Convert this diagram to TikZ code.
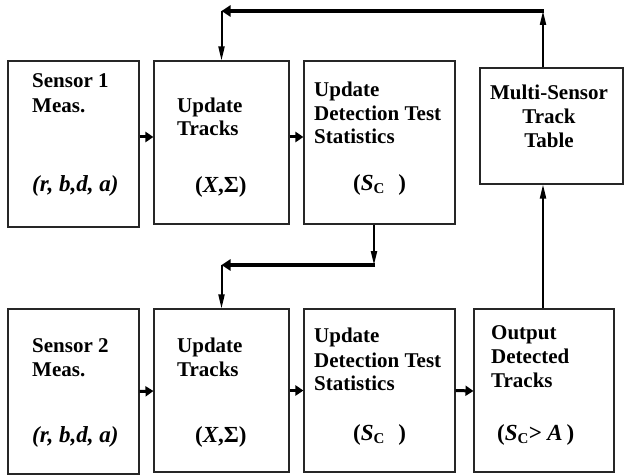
\documentclass[tikz,border=0pt]{standalone}
\usepackage{fontspec}
\setmainfont{Liberation Serif}
\usetikzlibrary{arrows.meta,calc}
\tikzset{
  box/.style={draw=black!85,line width=1.1pt,minimum width=#1,inner sep=0pt},
  lbl/.style={anchor=base west,inner sep=0pt,font=\bfseries\fontsize{21}{24}\selectfont},
  biglbl/.style={anchor=base west,inner sep=0pt,font=\bfseries\fontsize{23}{26}\selectfont},
  clbl/.style={anchor=base,inner sep=0pt,font=\bfseries\fontsize{21}{24}\selectfont},
  shortarrow/.style={line width=3pt,-{Triangle[length=8pt,width=10pt]}},
  looparrow/.style={line width=2pt,-{Triangle[length=14pt,width=6pt]}},
  thickline/.style={line width=4pt,-{Triangle[length=9pt,width=11pt]}},
}
\newcommand{\subC}{\raisebox{-0.35ex}{\fontsize{15}{15}\selectfont C}}
\begin{document}
\begin{tikzpicture}[x=1pt,y=-1pt]
\useasboundingbox (0,0) rectangle (624,476);
% boxes
\node[box=131pt,minimum height=166pt] (s1) at (73.5,144) {};
\node[box=135pt,minimum height=163pt] (t1) at (221.5,142.5) {};
\node[box=151pt,minimum height=163pt] (d1) at (379.5,142.5) {};
\node[box=143pt,minimum height=116pt] (m) at (551.5,126) {};
\node[box=131pt,minimum height=165pt] (s2) at (73.5,391.5) {};
\node[box=135pt,minimum height=163pt] (t2) at (221.5,390.5) {};
\node[box=151pt,minimum height=163pt] (d2) at (379.5,390.5) {};
\node[box=140pt,minimum height=163pt] (o) at (544,390.5) {};
% texts top row
\node[lbl] (s1a) at (32,88) {Sensor 1};
\node[lbl] (s1b) at (32,113) {Meas.};
\node[biglbl] (s1c) at (32,191) {\itshape (r, b,d, a)};
\node[lbl] (t1a) at (177,113) {Update};
\node[lbl] (t1b) at (177,136) {Tracks};
\node[biglbl] (t1c) at (195,193) {(\textit{X},Σ)};
\node[lbl] (d1a) at (314,97) {Update};
\node[lbl] (d1b) at (314,121) {Detection Test};
\node[lbl] (d1c) at (314,144) {Statistics};
\node[biglbl] (d1d) at (353,190) {(\textit{S}\subC\hspace{14pt})};
\node[clbl] (m1) at (549,100) {Multi-Sensor};
\node[clbl] (m2) at (549,124) {Track};
\node[clbl] (m3) at (549,148) {Table};
% texts bottom row
\node[lbl] (s2a) at (32,352) {Sensor 2};
\node[lbl] (s2b) at (32,376) {Meas.};
\node[biglbl] (s2c) at (32,442) {\itshape (r, b,d, a)};
\node[lbl] (t2a) at (177,352) {Update};
\node[lbl] (t2b) at (177,376) {Tracks};
\node[biglbl] (t2c) at (195,442) {(\textit{X},Σ)};
\node[lbl] (d2a) at (314,342) {Update};
\node[lbl] (d2b) at (314,367) {Detection Test};
\node[lbl] (d2c) at (314,390) {Statistics};
\node[biglbl] (d2d) at (353,440) {(\textit{S}\subC\hspace{14pt})};
\node[lbl] (o1) at (491,339) {Output};
\node[lbl] (o2) at (491,363) {Detected};
\node[lbl] (o3) at (491,387) {Tracks};
\node[biglbl] (o4) at (497,440) {(\textit{S}\subC\textit{> A}\,)};
% short arrows
\draw[shortarrow] ([yshift=7pt]s1.east) -- ([yshift=5.5pt]t1.west);
\draw[shortarrow] ([yshift=5.5pt]t1.east) -- ([yshift=5.5pt]d1.west);
\draw[shortarrow] (s2.east) -- ([yshift=-0.5pt]t2.west);
\draw[shortarrow] (t2.east) -- (d2.west);
\draw[shortarrow] (d2.east) -- ([yshift=-0.5pt]o.west);
% top loop
\coordinate (c1) at (543,11);
\coordinate (c2) at (221.5,11);
\draw[looparrow] ([xshift=-8.5pt]m.north) -- (c1);
\draw[thickline] ([xshift=1pt]c1) -- (c2);
\draw[looparrow] (c2) -- (t1.north);
% middle loop
\coordinate (c3) at (374,265);
\coordinate (c4) at (221.5,265);
\draw[looparrow] ([xshift=-5.5pt]d1.south) -- (c3);
\draw[thickline] ([xshift=1pt]c3) -- (c4);
\draw[looparrow] (c4) -- (t2.north);
% output to table
\draw[looparrow] ([xshift=-1pt]o.north) -- ([xshift=-8.5pt]m.south);
\end{tikzpicture}
\end{document}
